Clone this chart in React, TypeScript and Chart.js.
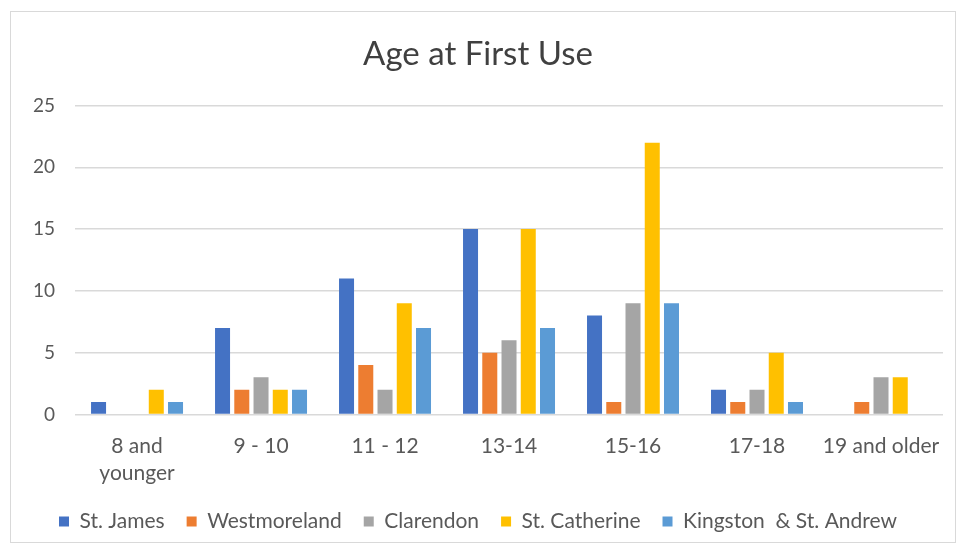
import React, { useEffect, useRef } from "react";
import { Chart, registerables } from "chart.js";

Chart.register(...registerables);

const categories: (string | string[])[] = [
  ["8 and", "younger"],
  "9 - 10",
  "11 - 12",
  "13-14",
  "15-16",
  "17-18",
  "19 and older",
];

const stJames = [1, 7, 11, 15, 8, 2, 0];
const westmoreland = [0, 2, 4, 5, 1, 1, 1];
const clarendon = [0, 3, 2, 6, 9, 2, 3];
const stCatherine = [2, 2, 9, 15, 22, 5, 3];
const kingston = [1, 2, 7, 7, 9, 1, 0];

const seriesNames = ["St. James", "Westmoreland", "Clarendon", "St. Catherine", "Kingston  & St. Andrew"];
const seriesColors = ["#4472C4", "#ED7D31", "#A5A5A5", "#FFC000", "#5B9BD5"];

const yTicks = [0, 5, 10, 15, 20, 25];

const FONT = "Lato, 'Open Sans', sans-serif";

export default function App() {
  const ref = useRef<HTMLCanvasElement | null>(null);
  useEffect(() => {
    if (!ref.current) return;
    const values = [stJames, westmoreland, clarendon, stCatherine, kingston];
    const chart = new Chart(ref.current, {
      type: "bar",
      data: {
        labels: categories,
        datasets: values.map((d, i) => ({
          label: seriesNames[i],
          data: d,
          backgroundColor: seriesColors[i],
          borderWidth: 0,
          categoryPercentage: 0.776,
          barPercentage: 0.78,
        })),
      },
      options: {
        animation: false,
        responsive: false,
        maintainAspectRatio: false,
        layout: { padding: { left: 13, right: 18, top: 0, bottom: 8 } },
        plugins: {
          title: {
            display: true,
            text: "Age at First Use",
            color: "#404040",
            font: { family: FONT, size: 33, weight: "normal" },
            padding: { top: 35, bottom: 31 },
          },
          legend: {
            position: "bottom",
            labels: {
              color: "#595959",
              font: { family: FONT, size: 21 },
              boxWidth: 10,
              boxHeight: 10,
              padding: 22,
            },
          },
          tooltip: { enabled: false },
        },
        scales: {
          x: {
            grid: { display: false },
            border: { display: false },
            ticks: {
              color: "#595959",
              font: { family: FONT, size: 21, lineHeight: 1.3 },
              padding: 10,
              maxRotation: 0,
              autoSkip: false,
            },
            afterFit: (scale: any) => {
              scale.height -= 8;
            },
          },
          y: {
            min: 0,
            max: 25,
            afterBuildTicks: (scale: any) => {
              scale.ticks = yTicks.map((v) => ({ value: v }));
            },
            grid: { color: "#D9D9D9", lineWidth: 1.5, drawTicks: false },
            border: { display: false },
            ticks: {
              color: "#595959",
              font: { family: FONT, size: 19 },
              padding: 20,
            },
          },
        },
      },
    });
    return () => chart.destroy();
  }, []);
  return (
    <div style={{ position: "absolute", left: 0, top: 0, width: 961, height: 550, background: "#fff" }}>
      <div
        style={{
          position: "absolute",
          left: 10,
          top: 11,
          width: 946,
          height: 532,
          border: "1.5px solid #D9D9D9",
          boxSizing: "border-box",
        }}
      />
      <canvas ref={ref} width={961} height={550} style={{ position: "absolute", left: 0, top: 0 }} />
    </div>
  );
}
